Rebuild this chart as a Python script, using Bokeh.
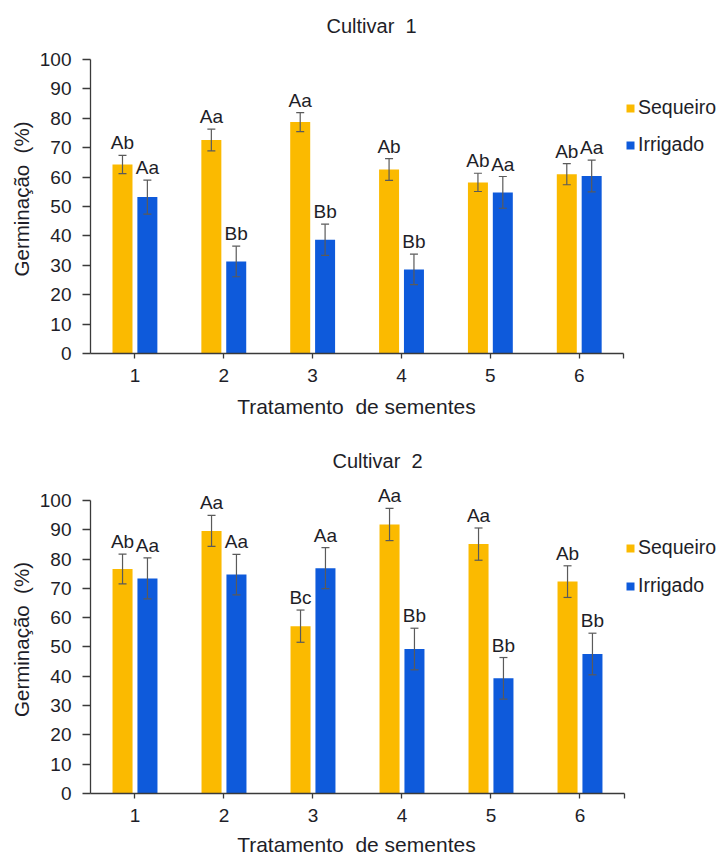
from bokeh.plotting import figure
from bokeh.models import (ColumnDataSource, Range1d, FixedTicker, Whisker, TeeHead,
                          Legend, LegendItem, LabelSet)
from bokeh.layouts import column
from bokeh.embed import file_html
from bokeh.resources import INLINE
from bokeh.core.properties import value

# ---------------- data ----------------
treatments = [1, 2, 3, 4, 5, 6]
series_names = ["Sequeiro", "Irrigado"]

c1_sequeiro = [64.3, 72.6, 78.7, 62.6, 58.2, 61.0]
c1_sequeiro_err = [3.1, 3.7, 3.2, 3.7, 3.1, 3.6]
c1_irrigado = [53.2, 31.3, 38.7, 28.6, 54.8, 60.4]
c1_irrigado_err = [5.8, 5.2, 5.3, 5.2, 5.4, 5.4]
c1_sequeiro_letters = ["Ab", "Aa", "Aa", "Ab", "Ab", "Ab"]
c1_irrigado_letters = ["Aa", "Bb", "Bb", "Bb", "Aa", "Aa"]

c2_sequeiro = [76.6, 89.6, 57.1, 91.8, 85.1, 72.3]
c2_sequeiro_err = [5.1, 5.3, 5.5, 5.5, 5.5, 5.4]
c2_irrigado = [73.4, 74.7, 76.9, 49.3, 39.3, 47.6]
c2_irrigado_err = [7.0, 6.9, 7.0, 7.1, 7.1, 7.1]
c2_sequeiro_letters = ["Ab", "Aa", "Bc", "Aa", "Aa", "Ab"]
c2_irrigado_letters = ["Aa", "Aa", "Aa", "Bb", "Bb", "Bb"]

y_ticks = [0, 10, 20, 30, 40, 50, 60, 70, 80, 90, 100]

# ---------------- style ----------------
FONT = "Liberation Sans"
TEXT = "#1e1e28"
AXIS = "#3a3a3a"
GOLD = "#FBBA00"
BLUE = "#0E5ADB"
ERR = "#5a5a5a"
BAR_W = 0.225
OFF = 0.14
NB = "\u00a0"
# trailing non-breaking spaces keep the x title centred under the axis
# (the frame extends to the right to host the legend)
PAD = NB * 17


def make_chart(title, seq, seq_err, irr, irr_err, seq_lab, irr_lab,
               height, b_left, b_top, b_bottom, x_end, title_off, title_standoff,
               leg_y, leg_spacing, xlab_standoff):
    p = figure(width=721, height=height, output_backend="svg", toolbar_location=None,
               x_range=Range1d(0.5, x_end), y_range=Range1d(0, 105.1),
               min_border_left=b_left, min_border_right=0,
               min_border_top=b_top, min_border_bottom=b_bottom)
    p.outline_line_color = None
    p.xgrid.visible = False
    p.ygrid.visible = False

    p.title.text = title
    p.title.align = "left"
    p.title.offset = title_off
    p.title.standoff = title_standoff
    p.title.text_font = FONT
    p.title.text_font_size = "20px"
    p.title.text_font_style = "normal"
    p.title.text_color = TEXT

    xs_s = [t - OFF for t in treatments]
    xs_i = [t + OFF for t in treatments]
    src_s = ColumnDataSource(dict(x=xs_s, top=seq,
                                  upper=[v + e for v, e in zip(seq, seq_err)],
                                  lower=[v - e for v, e in zip(seq, seq_err)],
                                  lab=seq_lab))
    src_i = ColumnDataSource(dict(x=xs_i, top=irr,
                                  upper=[v + e for v, e in zip(irr, irr_err)],
                                  lower=[v - e for v, e in zip(irr, irr_err)],
                                  lab=irr_lab))

    r_s = p.vbar(x="x", top="top", bottom=0, width=BAR_W, source=src_s,
                 fill_color=GOLD, line_color=None)
    r_i = p.vbar(x="x", top="top", bottom=0, width=BAR_W, source=src_i,
                 fill_color=BLUE, line_color=None)

    for src in (src_s, src_i):
        w = Whisker(base="x", upper="upper", lower="lower", source=src,
                    line_color=ERR, line_width=1.2, level="annotation",
                    upper_head=TeeHead(size=8, line_color=ERR, line_width=1.2),
                    lower_head=TeeHead(size=8, line_color=ERR, line_width=1.2))
        p.add_layout(w)
        labels = LabelSet(x="x", y="upper", text="lab", source=src,
                          text_align="center", text_baseline="alphabetic",
                          y_offset=6, text_font=value(FONT),
                          text_font_size=value("19px"), text_color=value(TEXT))
        p.add_layout(labels)

    # axes
    p.yaxis.ticker = FixedTicker(ticks=y_ticks)
    p.yaxis.bounds = (0, 100)
    p.xaxis.ticker = FixedTicker(ticks=treatments + [6.5])
    p.xaxis.bounds = (0.5, 6.5)
    p.xaxis.major_label_overrides = {6.5: ""}
    for ax in (p.xaxis[0], p.yaxis[0]):
        ax.axis_line_color = AXIS
        ax.axis_line_width = 1.3
        ax.major_tick_line_color = AXIS
        ax.major_tick_line_width = 1.3
        ax.major_tick_in = 0
        ax.minor_tick_line_color = None
        ax.major_label_text_font = FONT
        ax.major_label_text_font_size = "19px"
        ax.major_label_text_color = TEXT
        ax.axis_label_text_font = FONT
        ax.axis_label_text_font_style = "normal"
        ax.axis_label_text_color = TEXT
    p.yaxis.axis_label_text_font_size = "20.5px"
    p.xaxis.axis_label_text_font_size = "21px"
    p.yaxis.major_tick_out = 8
    p.yaxis.major_label_standoff = 11
    p.yaxis.axis_label = "Germinação " + NB + "(%)"
    p.yaxis.axis_label_standoff = 4
    p.xaxis.major_tick_out = 5
    p.xaxis.major_label_standoff = 10
    p.xaxis.axis_label = "Tratamento " + NB + "de sementes" + PAD
    p.xaxis.axis_label_standoff = xlab_standoff

    legend = Legend(items=[LegendItem(label=series_names[0], renderers=[r_s]),
                           LegendItem(label=series_names[1], renderers=[r_i])],
                    location=(535, leg_y), glyph_width=10, glyph_height=10,
                    label_standoff=3, spacing=leg_spacing, padding=0, margin=0,
                    border_line_color=None, background_fill_alpha=0,
                    label_text_font=FONT, label_text_font_size="19.5px",
                    label_text_color=TEXT)
    p.add_layout(legend)
    return p


p1 = make_chart("Cultivar " + NB + "1", c1_sequeiro, c1_sequeiro_err, c1_irrigado, c1_irrigado_err,
                c1_sequeiro_letters, c1_irrigado_letters,
                height=420, b_left=89, b_top=44, b_bottom=67, x_end=7.601,
                title_off=236, title_standoff=15, leg_y=197, leg_spacing=14,
                xlab_standoff=10)
p2 = make_chart("Cultivar " + NB + "2", c2_sequeiro, c2_sequeiro_err, c2_irrigado, c2_irrigado_err,
                c2_sequeiro_letters, c2_irrigado_letters,
                height=438, b_left=90, b_top=65, b_bottom=65, x_end=7.59,
                title_off=242, title_standoff=27, leg_y=196, leg_spacing=15,
                xlab_standoff=8)

layout = column(p1, p2)
open("out.html", "w").write(file_html(layout, INLINE))
